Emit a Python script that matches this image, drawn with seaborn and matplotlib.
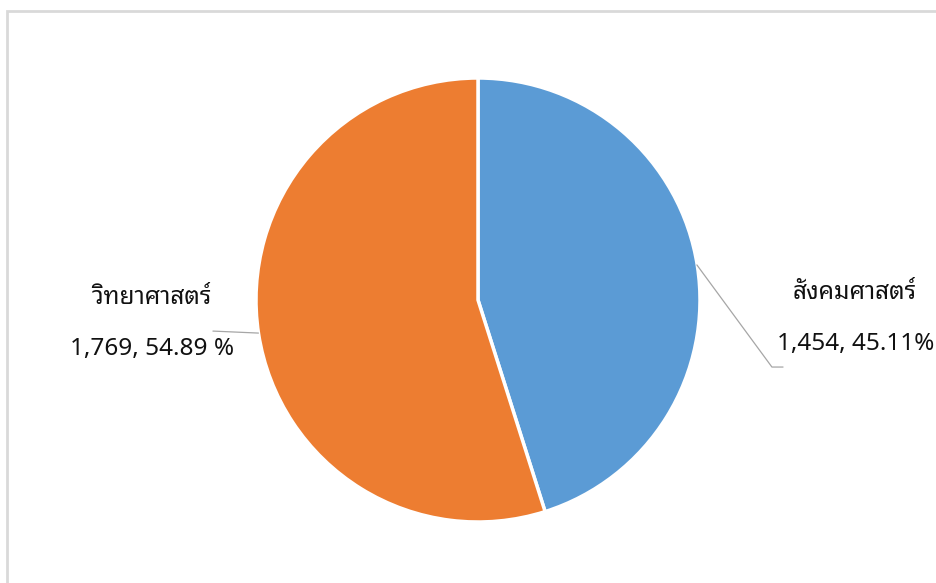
import matplotlib
matplotlib.use("Agg")
import matplotlib.pyplot as plt
from matplotlib import font_manager
from matplotlib.patches import Rectangle
import seaborn as sns

# data
categories = ["สังคมศาสตร์", "วิทยาศาสตร์"]
counts = [1454, 1769]
pct_labels = ["1,454, 45.11%", "1,769, 54.89 %"]

sns.set_theme(style="white")
colors = ["#5B9BD5", "#ED7D31"]

# pick a font that has Thai glyphs
names = {f.name for f in font_manager.fontManager.ttflist}
thai = "DejaVu Sans"
for cand in ["Noto Sans Thai Looped", "Sarabun", "Noto Sans Thai", "Bai Jamjuree", "Anuphan"]:
    if cand in names:
        thai = cand
        break
plt.rcParams["font.family"] = [thai, "DejaVu Sans"]

fig = plt.figure(figsize=(9.37, 5.83), dpi=100)
fig.patch.set_facecolor("white")

# light grey frame (top and left visible)
fig.patches.append(Rectangle((7 / 937, -0.1), 1.2, 1.1 - 11 / 583, transform=fig.transFigure,
                             fill=False, edgecolor="#D9D9D9", linewidth=2, clip_on=False))

ax = fig.add_axes([256 / 937, 61 / 583, 444 / 937, 444 / 583])
wedges, _ = ax.pie(counts, colors=colors, startangle=90, counterclock=False,
                   wedgeprops=dict(edgecolor="white", linewidth=2.5))
ax.set_xlim(-1, 1)
ax.set_ylim(-1, 1)
ax.set_aspect("equal")
ax.axis("off")

# labels
fs = 17.5
tc = "#111111"
ax.text(1.698, 0.03, categories[0], ha="center", va="center", fontsize=fs, color=tc, clip_on=False)
ax.text(1.70, -0.20, pct_labels[0], ha="center", va="center", fontsize=fs, color=tc, clip_on=False)
ax.text(-1.468, 0.01, categories[1], ha="center", va="center", fontsize=fs, color=tc, clip_on=False)
ax.text(-1.468, -0.22, pct_labels[1], ha="center", va="center", fontsize=fs, color=tc, clip_on=False)

# leader lines
ax.plot([0.986, 1.324, 1.374], [0.158, -0.302, -0.302], color="#A6A6A6", lw=0.9, clip_on=False)
ax.plot([-0.989, -1.194], [-0.149, -0.14], color="#A6A6A6", lw=0.9, clip_on=False)

fig.savefig("out.png", dpi=100)
